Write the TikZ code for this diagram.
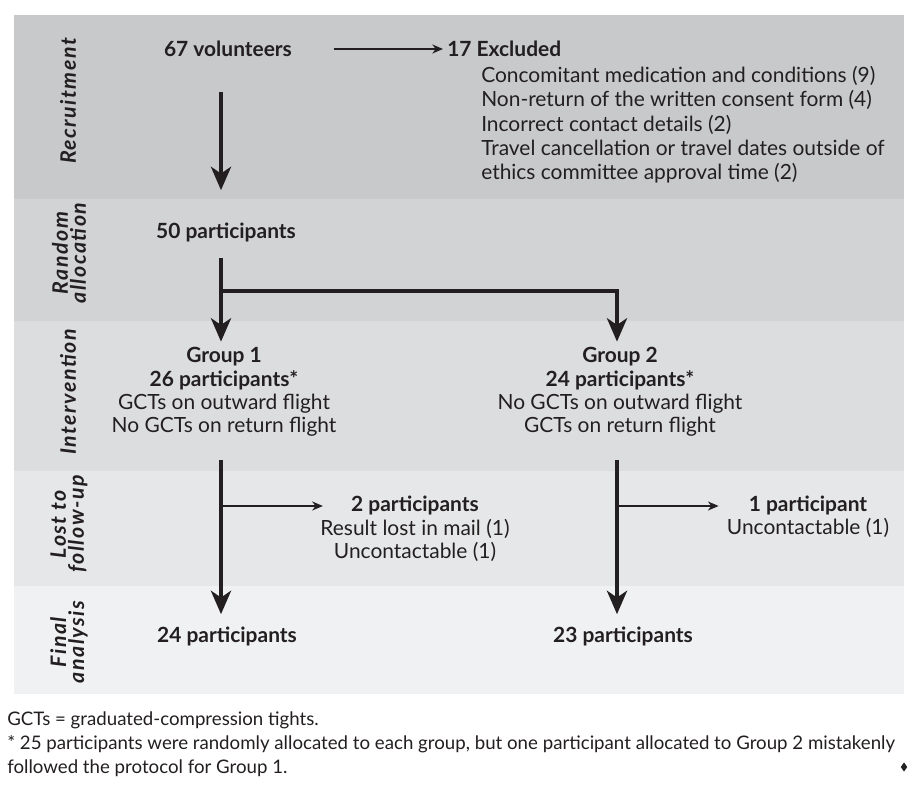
\documentclass[tikz,border=0pt]{standalone}
\usepackage{fontspec}
\setmainfont{Lato}
\newfontfamily\lanefont[LetterSpace = 7]{Lato}
\usepackage{xcolor}
\usepackage{tikz}
\usetikzlibrary{arrows.meta}
\usetikzlibrary{shapes.geometric}

\definecolor{bandA}{HTML}{C8C9CB}
\definecolor{bandB}{HTML}{D2D3D5}
\definecolor{bandC}{HTML}{DCDDDF}
\definecolor{bandD}{HTML}{E6E7E8}
\definecolor{bandE}{HTML}{F0F1F2}
\definecolor{ink}{HTML}{231F20}

\tikzset{
    txt/.style = {font = \fontsize{15.7}{17.6}\selectfont, inner sep = 0pt, align = center, text = ink},
    head/.style = {txt, font = \fontsize{15.7}{17.6}\selectfont\bfseries},
    lane/.style = {rotate = 90, font = \lanefont\fontsize{16}{13.5}\selectfont\bfseries\itshape, align = center, inner sep = 0pt, text = ink},
    note/.style = {font = \fontsize{14}{18}\selectfont, inner sep = 0pt, align = left, text = ink},
    bigarr/.style = {draw = ink, line width = 3.5pt, -{Stealth[length = 17.5pt, width = 15pt, inset = 5pt]}},
    thinarr/.style = {draw = ink, line width = 1.2pt, -{Stealth[length = 8pt, width = 6.75pt, inset = 2.5pt]}}
}

\begin{document}
\begin{tikzpicture}[x = 0.75pt, y = -0.75pt]
    \useasboundingbox (0, 0) rectangle (910, 793);

    % bands
    \fill[bandA] (14, 15) rectangle (904, 199);
    \fill[bandB] (14, 199) rectangle (904, 321);
    \fill[bandC] (14, 321) rectangle (904, 471);
    \fill[bandD] (14, 471) rectangle (904, 586);
    \fill[bandE] (14, 586) rectangle (904, 694);

    \node[lane] (recr) at (68, 101) {Recruitment};
    \node[lane] (rand) at (69, 253) {Random\\allocation};
    \node[lane] (interv) at (68, 392) {Intervention};
    \node[lane] (lost) at (69, 524) {Lost to\\follow-up};
    \node[lane] (final) at (69, 642) {Final\\analysis};

    \coordinate (c1) at (221, 0);
    \coordinate (c2) at (617, 0);
    \coordinate (split1) at (221, 291);
    \coordinate (split2) at (221, 506);
    \coordinate (split3) at (617, 506);

    % nodes
    \node[head] (vol) at (228, 49) {67 volunteers};
    \node[head, anchor = west] (excl) at (447, 49) {17 Excluded};
    \node[txt, align = left, anchor = north west, font = \fontsize{15.7}{18.2}\selectfont] (exclist) at (481, 66)
        {Concomitant medication and conditions (9)\\
         Non-return of the written consent form (4)\\
         Incorrect contact details (2)\\
         Travel cancellation or travel dates outside of\\
         ethics committee approval time (2)};
    \node[head] (p50) at (226, 232) {50 participants};
    \node[txt] (grp1) at (224, 392)
        {\textbf{Group 1}\\\textbf{26 participants*}\\GCTs on outward flight\\No GCTs on return flight};
    \node[txt] (grp2) at (620, 392)
        {\textbf{Group 2}\\\textbf{24 participants*}\\No GCTs on outward flight\\GCTs on return flight};
    \node[txt] (lost1) at (415, 529)
        {\textbf{2 participants}\\Result lost in mail (1)\\Uncontactable (1)};
    \node[txt] (lost2) at (808, 517)
        {\textbf{1 participant}\\Uncontactable (1)};
    \node[head] (fin1) at (227, 636) {24 participants};
    \node[head] (fin2) at (623, 636) {23 participants};

    % connectors
    \draw[thinarr, shorten <= 31pt, shorten >= 3pt] (vol) -- (excl);
    \draw[bigarr, shorten <= 26pt, shorten >= 24pt] (vol.south -| c1) -- (p50.north -| c1);
    \draw[bigarr, shorten <= 12pt, shorten >= 4pt] (p50.south -| c1) -- (grp1.north -| c1);
    \draw[bigarr, shorten >= 4pt] (split1) -| (grp2.north -| c2);
    \draw[bigarr, shorten <= 17pt, shorten >= 9pt] (grp1.south -| c1) -- (fin1.north -| c1);
    \draw[bigarr, shorten <= 17pt, shorten >= 9pt] (grp2.south -| c2) -- (fin2.north -| c2);
    \draw[thinarr, shorten >= -2pt] (split2) -- (split2 -| lost1.west);
    \draw[thinarr, shorten >= 6pt] (split3) -- (split3 -| lost2.west);

    % notes
    \node[note, anchor = west] (gct) at (7, 720) {GCTs = graduated-compression tights.};
    \node[note, anchor = west] (star) at (7, 756)
        {* 25 participants were randomly allocated to each group, but one participant allocated to Group 2 mistakenly\\
         followed the protocol for Group 1.};
    \node[diamond, fill = ink, inner sep = 0pt, minimum width = 5pt, minimum height = 7pt] (endmark) at (904, 767) {};
\end{tikzpicture}
\end{document}
